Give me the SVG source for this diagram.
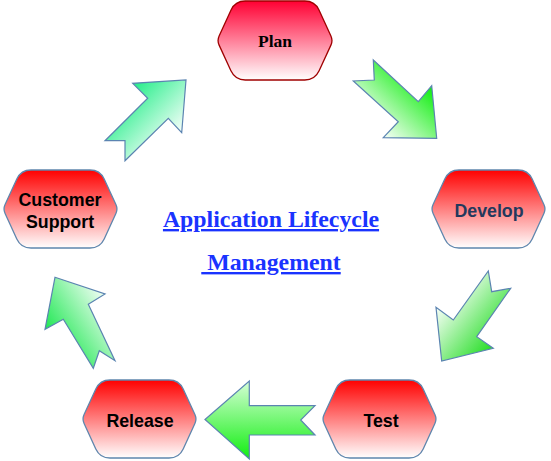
<svg xmlns="http://www.w3.org/2000/svg" xmlns:xlink="http://www.w3.org/1999/xlink" width="551" height="461" viewBox="0 0 551 461">
<style>
.hex{stroke:#5f86ad;stroke-width:1.3}
.arrow{stroke:#5b84b1;stroke-width:1.2;stroke-linejoin:miter}
.lbl{font-family:"Liberation Sans",Arial,sans-serif;font-weight:bold;font-size:17.8px;fill:#000;text-anchor:middle}
.title{font-family:"Liberation Serif","Times New Roman",serif;font-weight:bold;font-size:23.8px;fill:#1a33ff;text-anchor:middle;text-decoration:underline;white-space:pre}
</style>
<defs>
<linearGradient id="gRed" x1="0" y1="0" x2="0" y2="1"><stop offset="0" stop-color="#ff0000"/><stop offset="1" stop-color="#ffffff"/></linearGradient>
<linearGradient id="gPlan" x1="0" y1="0" x2="0" y2="1"><stop offset="0" stop-color="#ff0033"/><stop offset="1" stop-color="#ffffff"/></linearGradient>
<linearGradient id="gA1" gradientUnits="userSpaceOnUse" x1="383" y1="140" x2="432" y2="88"><stop offset="0" stop-color="#ffffff"/><stop offset="1" stop-color="#11ee11"/></linearGradient>
<linearGradient id="gA2" gradientUnits="userSpaceOnUse" x1="438" y1="302" x2="495" y2="348"><stop offset="0" stop-color="#ffffff"/><stop offset="1" stop-color="#22dd22"/></linearGradient>
<linearGradient id="gA3" gradientUnits="userSpaceOnUse" x1="0" y1="381" x2="0" y2="459"><stop offset="0" stop-color="#d6ffd6"/><stop offset="1" stop-color="#11ee11"/></linearGradient>
<linearGradient id="gA4" gradientUnits="userSpaceOnUse" x1="47" y1="330" x2="108" y2="290"><stop offset="0" stop-color="#22e855"/><stop offset="1" stop-color="#ffffff"/></linearGradient>
<linearGradient id="gA5" gradientUnits="userSpaceOnUse" x1="132" y1="84" x2="184" y2="134"><stop offset="0" stop-color="#22ee88"/><stop offset="1" stop-color="#ffffff"/></linearGradient>
<path id="hex" d="M28,0 L87,0 Q97,0 101.2,9.07 L112.9,34.46 Q115,39 112.9,43.54 L101.2,68.93 Q97,78 87,78 L28,78 Q18,78 13.8,68.93 L2.1,43.54 Q0,39 2.1,34.46 L13.8,9.07 Q18,0 28,0 Z"/>
</defs>
<rect width="551" height="461" fill="#ffffff"/>
<g id="connectors">
<polygon class="arrow" fill="url(#gA1)" points="373.3,60 418.3,101.7 431.7,85.7 436.7,138.3 383.3,137.7 398.3,121.7 353.3,81 374.3,80"/>
<polygon class="arrow" fill="url(#gA2)" points="488.3,271 491.7,291.7 510.7,288.3 476.7,336.7 493.3,348.3 441.7,361 436,307.3 453.3,320"/>
<polygon class="arrow" fill="url(#gA3)" points="205,419.5 249.3,381 249.3,405.7 315,405.7 300.7,420 315,435 249.3,435 249.3,459"/>
<polygon class="arrow" fill="url(#gA4)" points="55,277.3 105,294 88.3,304.3 115,360.7 99.3,350.7 93.3,368.3 63.3,319.3 45,329.3"/>
<polygon class="arrow" fill="url(#gA5)" points="105,140.7 125,140.7 125,160.7 168.3,118.3 181.7,132.7 186,80 132.7,83.3 147.7,98.3"/>
</g>
<g id="plan">
<use xlink:href="#hex" href="#hex" transform="translate(217,1) scale(1.009,1.013)" fill="url(#gPlan)" stroke="#a00000" stroke-width="1.3"/>
<text x="275" y="47" style="font-family:'Liberation Serif','Times New Roman',serif;font-weight:bold;font-size:17.5px;text-anchor:middle" fill="#000">Plan</text>
</g>
<g id="develop">
<use xlink:href="#hex" href="#hex" class="hex" x="431" y="170" fill="url(#gRed)"/>
<text class="lbl" x="489" y="217" style="fill:#23395d">Develop</text>
</g>
<g id="test">
<use xlink:href="#hex" href="#hex" class="hex" x="322" y="380" fill="url(#gRed)"/>
<text class="lbl" x="381" y="427">Test</text>
</g>
<g id="release">
<use xlink:href="#hex" href="#hex" class="hex" x="82" y="380" fill="url(#gRed)"/>
<text class="lbl" x="140" y="427">Release</text>
</g>
<g id="customer-support">
<use xlink:href="#hex" href="#hex" class="hex" x="3" y="170" fill="url(#gRed)"/>
<text class="lbl" x="60" y="206">Customer</text>
<text class="lbl" x="60" y="228">Support</text>
</g>
<g id="title">
<text class="title" x="271" y="227">Application Lifecycle</text>
<text class="title" x="271" y="270"> Management</text>
</g>
</svg>
